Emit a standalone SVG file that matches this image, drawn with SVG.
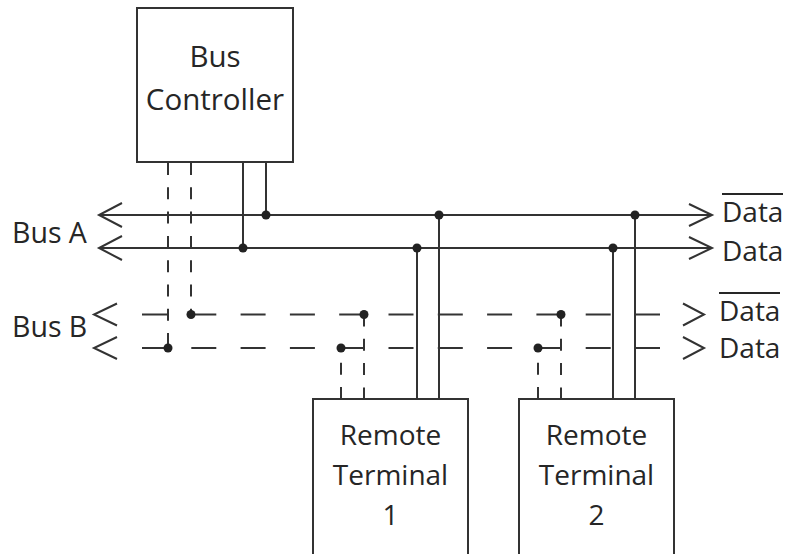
<svg xmlns="http://www.w3.org/2000/svg" width="788" height="554" viewBox="0 0 788 554">
<style>
.box{fill:#fff;stroke:#333;stroke-width:2}
.t{font-family:"Open Sans","Liberation Sans",sans-serif;fill:#262626}
.s{stroke:#333;stroke-width:2;fill:none}
.dv{stroke:#333;stroke-width:2;fill:none;stroke-dasharray:12 12.3}
.dh{stroke:#333;stroke-width:2;fill:none;stroke-dasharray:25 24.3}
.dot{fill:#222}
.ov{stroke:#262626;stroke-width:2}
</style>
<rect width="788" height="554" fill="#fff"/>
<g id="connectors">
  <line class="s" x1="99" y1="215" x2="712" y2="215"/>
  <line class="s" x1="99" y1="248" x2="712" y2="248"/>
  <polyline class="s" points="122,203 99,215 122,227"/>
  <polyline class="s" points="122,236 99,248 122,260"/>
  <polyline class="s" points="689,204 712,215 689,226"/>
  <polyline class="s" points="689,237 712,248 689,259"/>
  <line class="dh" x1="142" y1="314.5" x2="660" y2="314.5"/>
  <line class="dh" x1="142" y1="348" x2="660" y2="348"/>
  <polyline class="s" points="117,303.5 94,314.5 117,325.5"/>
  <polyline class="s" points="117,337 94,348 117,359"/>
  <polyline class="s" points="683,303.5 704,314.5 683,325.5"/>
  <polyline class="s" points="683,337 704,348 683,359"/>
  <line class="s" x1="243" y1="162" x2="243" y2="248"/>
  <line class="s" x1="266" y1="162" x2="266" y2="215"/>
  <line class="dv" x1="168" y1="163" x2="168" y2="348"/>
  <line class="dv" x1="191" y1="163" x2="191" y2="314.5"/>
  <circle class="dot" cx="243" cy="248" r="4.5"/>
  <circle class="dot" cx="266" cy="215" r="4.5"/>
  <circle class="dot" cx="168" cy="348" r="4.5"/>
  <circle class="dot" cx="191" cy="314.5" r="4.5"/>
  <line class="s" x1="417" y1="248" x2="417" y2="399"/>
  <line class="s" x1="439" y1="215" x2="439" y2="399"/>
  <line class="dv" x1="364" y1="314.5" x2="364" y2="399"/>
  <line class="dv" x1="341" y1="362.8" x2="341" y2="399"/>
  <line class="s" x1="341" y1="348" x2="364" y2="348"/>
  <circle class="dot" cx="417" cy="248" r="4.5"/>
  <circle class="dot" cx="439" cy="215" r="4.5"/>
  <circle class="dot" cx="364" cy="314.5" r="4.5"/>
  <circle class="dot" cx="341" cy="348" r="4.5"/>
  <line class="s" x1="613" y1="248" x2="613" y2="399"/>
  <line class="s" x1="635" y1="215" x2="635" y2="399"/>
  <line class="dv" x1="561" y1="314.5" x2="561" y2="399"/>
  <line class="dv" x1="538" y1="362.8" x2="538" y2="399"/>
  <line class="s" x1="538" y1="348" x2="561" y2="348"/>
  <circle class="dot" cx="613" cy="248" r="4.5"/>
  <circle class="dot" cx="635" cy="215" r="4.5"/>
  <circle class="dot" cx="561" cy="314.5" r="4.5"/>
  <circle class="dot" cx="538" cy="348" r="4.5"/>
</g>
<g id="bus-controller">
  <rect class="box" x="137" y="8" width="156" height="154"/>
  <text class="t" x="215" y="67" font-size="29.5" text-anchor="middle">Bus</text>
  <text class="t" x="215" y="110" font-size="29.5" text-anchor="middle">Controller</text>
</g>
<g id="remote-terminal-1">
  <rect class="box" x="313" y="399" width="155" height="170"/>
  <text class="t" x="390.5" y="445" font-size="28" text-anchor="middle">Remote</text>
  <text class="t" x="390.5" y="485" font-size="28" text-anchor="middle">Terminal</text>
  <text class="t" x="390.5" y="525" font-size="28" text-anchor="middle">1</text>
</g>
<g id="remote-terminal-2">
  <rect class="box" x="519" y="399" width="155" height="170"/>
  <text class="t" x="596.5" y="445" font-size="28" text-anchor="middle">Remote</text>
  <text class="t" x="596.5" y="485" font-size="28" text-anchor="middle">Terminal</text>
  <text class="t" x="596.5" y="525" font-size="28" text-anchor="middle">2</text>
</g>
<g id="labels">
  <text class="t" x="12" y="243" font-size="28.5">Bus A</text>
  <text class="t" x="12" y="337" font-size="28.5">Bus B</text>
  <text class="t" x="722" y="222" font-size="28">Data</text>
  <line class="ov" x1="722" y1="194" x2="783" y2="194"/>
  <text class="t" x="722" y="261" font-size="28">Data</text>
  <text class="t" x="719" y="321" font-size="28">Data</text>
  <line class="ov" x1="719" y1="293" x2="780" y2="293"/>
  <text class="t" x="719" y="358" font-size="28">Data</text>
</g>
</svg>
